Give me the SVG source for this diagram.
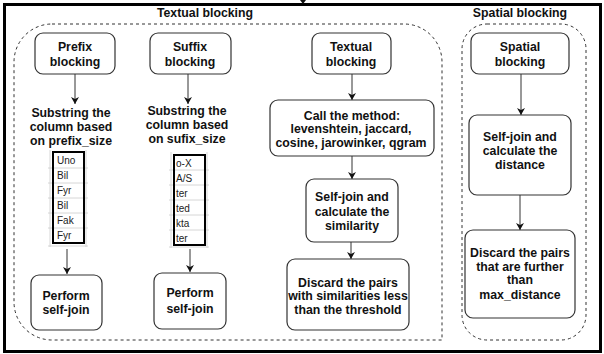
<svg xmlns="http://www.w3.org/2000/svg" width="604" height="354" viewBox="0 0 604 354">
<defs>
<style>
.t{font-family:"Liberation Sans",Arial,sans-serif;font-weight:bold;font-size:12.3px;fill:#111;text-anchor:middle}
.h{font-family:"Liberation Sans",Arial,sans-serif;font-weight:bold;font-size:12.3px;fill:#111;text-anchor:middle}
.c{font-family:"Liberation Sans",Arial,sans-serif;font-size:10px;fill:#222}
.n{fill:#fff;stroke:#333;stroke-width:1.2}
.grp{fill:none;stroke:#333;stroke-width:1;stroke-dasharray:3 3}
.e{stroke:#333;stroke-width:1;fill:none;marker-end:url(#ah)}
.g{stroke:#ccc;stroke-width:0.8}
.tb{fill:none;stroke:#000;stroke-width:2}
</style>
<marker id="ah" markerWidth="8" markerHeight="8" refX="7" refY="4" orient="auto" markerUnits="userSpaceOnUse">
<path d="M0,0 L7,4 L0,8 L2,4 Z" fill="#111"/>
</marker>
</defs>
<rect width="604" height="354" fill="#fff"/>
<rect x="4.5" y="4.5" width="596" height="347" fill="none" stroke="#000" stroke-width="3"/>
<path d="M300,0 L306,0 L303,4 Z" fill="#111"/>

<g id="textual-group">
<path class="grp" d="M52,24 H404 A38,38 0 0 1 442,62 V340 H52 A38,38 0 0 1 14,302 V62 A38,38 0 0 1 52,24 Z"/>
<text class="h" x="205" y="17">Textual blocking</text>
</g>
<g id="spatial-group">
<path class="grp" d="M487,24 H561 A25,25 0 0 1 586,49 V315 A25,25 0 0 1 561,340 H487 A25,25 0 0 1 462,315 V49 A25,25 0 0 1 487,24 Z"/>
<text class="h" x="520" y="17">Spatial blocking</text>
</g>

<g id="connectors">
<line class="e" x1="75" y1="74" x2="75" y2="104"/>
<line class="e" x1="188" y1="74" x2="188" y2="104"/>
<line class="e" x1="67" y1="249" x2="67" y2="274"/>
<line class="e" x1="190" y1="249" x2="190" y2="272"/>
<line class="e" x1="352" y1="74" x2="352" y2="100"/>
<line class="e" x1="352" y1="156" x2="352" y2="179"/>
<line class="e" x1="351" y1="242" x2="351" y2="259"/>
<line class="e" x1="521" y1="74" x2="521" y2="115"/>
<line class="e" x1="520" y1="195" x2="520" y2="230"/>
</g>

<g id="prefix-blocking">
<rect class="n" x="35" y="33" width="80" height="41" rx="8"/>
<text class="t" x="75" y="51">Prefix</text>
<text class="t" x="75" y="66">blocking</text>
</g>
<g id="suffix-blocking">
<rect class="n" x="150" y="33" width="81" height="41" rx="8"/>
<text class="t" x="190" y="51">Suffix</text>
<text class="t" x="190" y="66">blocking</text>
</g>
<g id="textual-blocking">
<rect class="n" x="312" y="33" width="79" height="41" rx="8"/>
<text class="t" x="351" y="51">Textual</text>
<text class="t" x="351" y="66">blocking</text>
</g>
<g id="spatial-blocking">
<rect class="n" x="471" y="33" width="98" height="41" rx="8"/>
<text class="t" x="520" y="51">Spatial</text>
<text class="t" x="520" y="66">blocking</text>
</g>

<g id="prefix-substring">
<text class="t" x="71" y="117">Substring the</text>
<text class="t" x="71" y="131">column based</text>
<text class="t" x="71" y="145">on prefix_size</text>
</g>
<g id="suffix-substring">
<text class="t" x="187" y="115">Substring the</text>
<text class="t" x="187" y="129">column based</text>
<text class="t" x="187" y="143">on sufix_size</text>
</g>

<g id="prefix-table">
<line class="g" x1="50" y1="150" x2="50" y2="247"/>
<line class="g" x1="86" y1="150" x2="86" y2="247"/>
<line class="g" x1="48" y1="168" x2="88" y2="168"/>
<line class="g" x1="48" y1="183" x2="88" y2="183"/>
<line class="g" x1="48" y1="198" x2="88" y2="198"/>
<line class="g" x1="48" y1="213" x2="88" y2="213"/>
<line class="g" x1="48" y1="228" x2="88" y2="228"/>
<line class="g" x1="48" y1="246" x2="88" y2="246"/>
<rect class="tb" x="53" y="152" width="31" height="91"/>
<text class="c" x="57" y="164">Uno</text>
<text class="c" x="57" y="179">Bil</text>
<text class="c" x="57" y="194">Fyr</text>
<text class="c" x="57" y="209">Bil</text>
<text class="c" x="57" y="224">Fak</text>
<text class="c" x="57" y="239">Fyr</text>
</g>
<g id="suffix-table">
<line class="g" x1="171" y1="152" x2="171" y2="248"/>
<line class="g" x1="207" y1="152" x2="207" y2="248"/>
<line class="g" x1="169" y1="170" x2="209" y2="170"/>
<line class="g" x1="169" y1="185" x2="209" y2="185"/>
<line class="g" x1="169" y1="200" x2="209" y2="200"/>
<line class="g" x1="169" y1="215" x2="209" y2="215"/>
<line class="g" x1="169" y1="230" x2="209" y2="230"/>
<line class="g" x1="169" y1="247" x2="209" y2="247"/>
<rect class="tb" x="174" y="155" width="31" height="90"/>
<text class="c" x="176" y="167">o-X</text>
<text class="c" x="176" y="182">A/S</text>
<text class="c" x="176" y="197">ter</text>
<text class="c" x="176" y="212">ted</text>
<text class="c" x="176" y="227">kta</text>
<text class="c" x="176" y="242">ter</text>
</g>

<g id="prefix-selfjoin">
<rect class="n" x="31" y="275" width="71" height="55" rx="8"/>
<text class="t" x="66" y="300">Perform</text>
<text class="t" x="66" y="314">self-join</text>
</g>
<g id="suffix-selfjoin">
<rect class="n" x="154" y="273" width="72" height="56" rx="8"/>
<text class="t" x="190" y="297">Perform</text>
<text class="t" x="190" y="313">self-join</text>
</g>

<g id="call-method">
<rect class="n" x="270" y="100" width="164" height="56" rx="8"/>
<text class="t" x="352" y="120">Call the method:</text>
<text class="t" x="351" y="133">levenshtein, jaccard,</text>
<text class="t" x="351" y="147">cosine, jarowinker, qgram</text>
</g>
<g id="textual-selfjoin">
<rect class="n" x="306" y="179" width="92" height="63" rx="8"/>
<text class="t" x="352" y="201">Self-join and</text>
<text class="t" x="352" y="216">calculate the</text>
<text class="t" x="352" y="230">similarity</text>
</g>
<g id="textual-discard">
<rect class="n" x="287" y="259" width="122" height="71" rx="8"/>
<text class="t" x="348" y="287">Discard the pairs</text>
<text class="t" x="348" y="300">with similarities less</text>
<text class="t" x="348" y="314">than the threshold</text>
</g>

<g id="spatial-selfjoin">
<rect class="n" x="469" y="115" width="102" height="80" rx="8"/>
<text class="t" x="520" y="141">Self-join and</text>
<text class="t" x="520" y="155">calculate the</text>
<text class="t" x="520" y="169">distance</text>
</g>
<g id="spatial-discard">
<rect class="n" x="465" y="230" width="110" height="88" rx="8"/>
<text class="t" x="520" y="257">Discard the pairs</text>
<text class="t" x="520" y="271">that are further</text>
<text class="t" x="520" y="284">than</text>
<text class="t" x="520" y="299">max_distance</text>
</g>
</svg>
